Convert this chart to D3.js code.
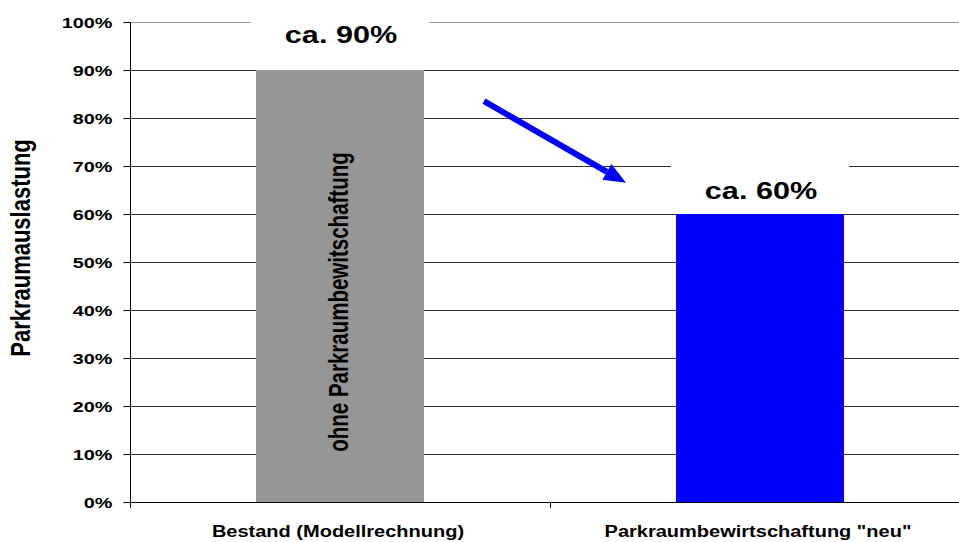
<!DOCTYPE html>
<html>
<head>
<meta charset="utf-8">
<script src="https://cdn.jsdelivr.net/npm/d3@7"></script>
<style>
  body { margin: 0; background: #fff; }
  text { font-family: "Liberation Sans", Arial, sans-serif; font-weight: bold; fill: #000; }
</style>
</head>
<body>
<script>
// data
var categories = ['Bestand (Modellrechnung)', 'Parkraumbewirtschaftung "neu"'];
var values = [0.9, 0.6];
var valueLabels = ['ca. 90%', 'ca. 60%'];
var barNote = ['ohne Parkraumbewitschaftung', ''];
var yTicks = [0, 0.1, 0.2, 0.3, 0.4, 0.5, 0.6, 0.7, 0.8, 0.9, 1];
var yTitle = 'Parkraumauslastung';

var width = 959, height = 542;
var plotLeft = 130, plotRight = 970, plotTop = 22, plotBottom = 502;
var K = 1.28; // horizontal stretch of the original picture

var svg = d3.select('body').append('svg').attr('width', width).attr('height', height);

var x = d3.scaleBand().domain(categories).range([plotLeft, plotRight]).paddingInner(0.6).paddingOuter(0.3);
var y = d3.scaleLinear().domain([0, 1]).range([plotBottom, plotTop]);

// gridlines
svg.selectAll('line.grid')
  .data(yTicks.filter(function(d){ return d > 0; }))
  .enter().append('line')
  .attr('x1', plotLeft).attr('x2', plotRight)
  .attr('y1', function(d){ return Math.round(y(d)) + 0.5; })
  .attr('y2', function(d){ return Math.round(y(d)) + 0.5; })
  .attr('stroke', function(d){ return d === 1 ? '#999' : '#333'; })
  .attr('stroke-width', 1);

// bars
svg.selectAll('rect.bar')
  .data(values)
  .enter().append('rect')
  .attr('x', function(d, i){ return x(categories[i]); })
  .attr('width', x.bandwidth())
  .attr('y', function(d){ return y(d); })
  .attr('height', function(d){ return y(0) - y(d); })
  .attr('fill', function(d, i){ return i === 0 ? '#969696' : '#0000ff'; });

// y axis
var yAxis = d3.axisLeft(y).tickValues(yTicks).tickSize(7).tickFormat(d3.format('.0%'));
var gy = svg.append('g').attr('transform', 'translate(' + (plotLeft + 0.5) + ',0)').call(yAxis);
gy.select('.domain').remove();
gy.attr('font-family', null).attr('font-size', null);
gy.append('line').attr('y1', plotTop).attr('y2', plotBottom + 6).attr('stroke', '#000');
gy.selectAll('.tick line').attr('stroke', '#000');
gy.selectAll('.tick text')
  .attr('x', null).attr('dy', null)
  .attr('dominant-baseline', 'central')
  .attr('transform', 'translate(-18,0) scale(' + K + ',1)')
  .style('font-size', '15.5px');

// x axis
svg.append('line').attr('x1', plotLeft).attr('x2', plotRight)
  .attr('y1', plotBottom + 0.5).attr('y2', plotBottom + 0.5).attr('stroke', '#000');
var bounds = [plotLeft, plotLeft + x.step(), plotRight];
svg.selectAll('line.xtick').data(bounds).enter().append('line')
  .attr('x1', function(d){ return d + 0.5; }).attr('x2', function(d){ return d + 0.5; })
  .attr('y1', plotBottom).attr('y2', plotBottom + 6).attr('stroke', '#000');

svg.selectAll('text.cat')
  .data(categories)
  .enter().append('text')
  .attr('text-anchor', 'middle')
  .attr('transform', function(d){ return 'translate(' + (x(d) + x.bandwidth() / 2 - 2) + ',537) scale(1.25,1)'; })
  .style('font-size', '16px')
  .text(function(d){ return d; });

// y title
svg.append('text')
  .attr('text-anchor', 'middle')
  .attr('transform', 'translate(30,248) rotate(-90) scale(1,' + K + ')')
  .style('font-size', '22px')
  .text(yTitle);

// note inside the first bar
svg.selectAll('text.note')
  .data(barNote)
  .enter().append('text')
  .attr('text-anchor', 'middle')
  .attr('transform', function(d, i){
    return 'translate(' + (x(categories[i]) + x.bandwidth() / 2 + 8) + ',302) rotate(-90) scale(1,1.35)';
  })
  .style('font-size', '20.5px')
  .text(function(d){ return d; });

// value labels with white boxes
var labelDy = [-27, -15];
var boxW = 178;
var lab = svg.selectAll('g.lab')
  .data(values)
  .enter().append('g');
lab.append('rect')
  .attr('x', function(d, i){ return x(categories[i]) + x.bandwidth() / 2 - boxW / 2; })
  .attr('width', boxW)
  .attr('y', function(d, i){ return y(d) + labelDy[i] - 33; })
  .attr('height', function(d, i){ return 33 - labelDy[i] - 0.5; })
  .attr('fill', '#fff');
lab.append('text')
  .attr('text-anchor', 'middle')
  .attr('transform', function(d, i){
    return 'translate(' + (x(categories[i]) + x.bandwidth() / 2 + 1) + ',' + (y(d) + labelDy[i]) + ') scale(1.25,1)';
  })
  .style('font-size', '24.5px')
  .text(function(d, i){ return valueLabels[i]; });

// arrow between the bars
var ax1 = x(categories[0]) + x.bandwidth() + 60, ay1 = y(0.835);
var ax2 = x(categories[1]) - 50, ay2 = y(0.665);
var ang = Math.atan2(ay2 - ay1, ax2 - ax1);
var headL = 22, headW = 9;
var bx = ax2 - headL * Math.cos(ang), by = ay2 - headL * Math.sin(ang);
svg.append('line')
  .attr('x1', ax1).attr('y1', ay1).attr('x2', bx).attr('y2', by)
  .attr('stroke', '#0000ff').attr('stroke-width', 6);
svg.append('path')
  .attr('d', 'M' + ax2 + ',' + ay2 +
    'L' + (bx + headW * Math.sin(ang)) + ',' + (by - headW * Math.cos(ang)) +
    'L' + (bx - headW * Math.sin(ang)) + ',' + (by + headW * Math.cos(ang)) + 'Z')
  .attr('fill', '#0000ff');
</script>
</body>
</html>
